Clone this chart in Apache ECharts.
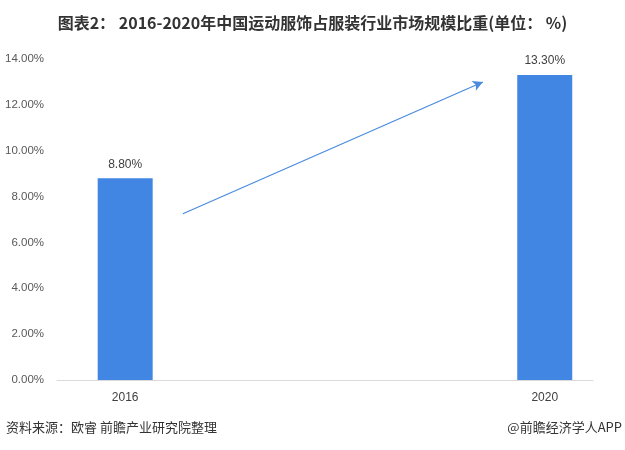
<!DOCTYPE html>
<html><head><meta charset="utf-8">
<script src="https://cdn.jsdelivr.net/npm/echarts@6/dist/echarts.min.js"></script>
<style>html,body{margin:0;padding:0;background:#fff}#c{width:625px;height:450px}</style>
</head><body><div id="c"></div>
<script>
var years = [2016, 2020];
var shares = [8.80, 13.30];
var yTicks = [0, 2, 4, 6, 8, 10, 12, 14];
var arrowFrom = [2016.55, 7.25];
var arrowTo = [2019.41, 13.0];

var chart = echarts.init(document.getElementById('c'));
var font = '"Noto Sans CJK SC", "Microsoft YaHei", sans-serif';
var latin = 'Arial, "Liberation Sans", sans-serif';
chart.setOption({
  animation: false,
  textStyle: {fontFamily: font},
  title: {
    text: '图表2： 2016-2020年中国运动服饰占服装行业市场规模比重(单位： %)',
    left: 'center', top: 10,
    textStyle: {fontSize: 16, fontWeight: 'bold', color: '#333', fontFamily: font}
  },
  graphic: [
    {type: 'text', left: 6, top: 421, style: {text: '资料来源：欧睿 前瞻产业研究院整理', fontSize: 13, fill: '#333', fontFamily: font}},
    {type: 'text', right: 3, top: 421, style: {text: '@前瞻经济学人APP', fontSize: 13, fill: '#333', fontFamily: font}}
  ],
  grid: {left: 57, right: 32, top: 59, bottom: 70},
  xAxis: {
    type: 'value', min: 2015.35, max: 2020.46,
    splitLine: {show: false},
    axisLine: {show: true, lineStyle: {color: '#d9d9d9'}},
    axisTick: {show: false},
    axisLabel: {customValues: years, color: '#404040', fontSize: 12, fontWeight: 'normal', margin: 12,
      formatter: function (v) { return String(v); }, fontFamily: latin}
  },
  yAxis: {
    type: 'value', min: 0, max: 14, interval: 2,
    splitLine: {show: false},
    axisLine: {show: false}, axisTick: {show: false},
    axisLabel: {color: '#595959', fontSize: 11.5, margin: 13, fontFamily: latin,
      formatter: function (v) { return v.toFixed(2) + '%'; }}
  },
  series: [{
    type: 'bar',
    barWidth: 55,
    data: years.map(function (y, i) { return [y, shares[i]]; }),
    itemStyle: {color: '#4186E3'},
    label: {show: true, position: 'top', distance: 8, color: '#404040', fontSize: 12,
      fontFamily: latin,
      formatter: function (p) { return p.value[1].toFixed(2) + '%'; }},
    markLine: {
      silent: true,
      symbol: ['none', 'arrow'], symbolSize: [8, 10],
      label: {show: false},
      lineStyle: {color: '#4A8BDF', width: 1.2, type: 'solid'},
      data: [[{coord: arrowFrom}, {coord: arrowTo}]]
    }
  }]
});
</script></body></html>
